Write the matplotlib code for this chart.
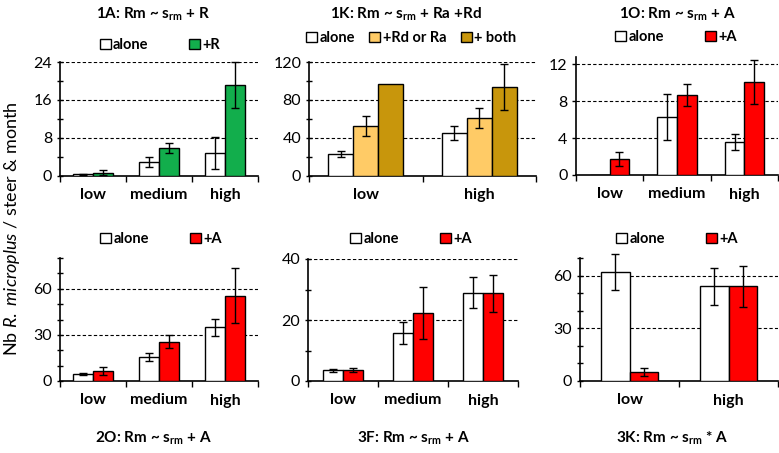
import numpy as np
import matplotlib
matplotlib.use("Agg")
import matplotlib.pyplot as plt
from matplotlib.patches import Patch
from matplotlib.ticker import MultipleLocator, FixedLocator, NullFormatter

plt.rcParams['font.family'] = ['Lato', 'DejaVu Sans']
plt.rcParams['mathtext.fontset'] = 'custom'
plt.rcParams['mathtext.rm'] = 'Lato'
plt.rcParams['mathtext.it'] = 'Lato:italic'
plt.rcParams['mathtext.bf'] = 'Lato:bold'

# ---- data ----
cats3 = ['low', 'medium', 'high']
cats2 = ['low', 'high']

# 1A
a1_alone = [0.3, 2.9, 4.8]
a1_alone_err = [0.1, 1.05, 3.4]
a1_r = [0.6, 5.8, 19.1]
a1_r_err = [0.5, 1.1, 4.9]

# 1K
k1_alone = [23, 45]
k1_alone_err = [3, 7]
k1_rd = [52.5, 60.4]
k1_rd_err = [10.5, 10.5]
k1_both = [96.8, 93.7]
k1_both_err = [np.nan, 24]

# 1O
o1_alone = [0, 6.3, 3.6]
o1_alone_err = [np.nan, 2.45, 0.85]
o1_a = [1.73, 8.67, 10.1]
o1_a_err = [0.76, 1.16, 2.35]

# 2O
o2_alone = [4.5, 15.5, 34.8]
o2_alone_err = [0.5, 2.7, 5.3]
o2_a = [6.7, 25.4, 55.5]
o2_a_err = [2.7, 4.2, 18]

# 3F
f3_alone = [3.5, 15.8, 29.0]
f3_alone_err = [0.4, 3.6, 5.0]
f3_a = [3.5, 22.3, 28.7]
f3_a_err = [0.6, 8.4, 6.0]

# 3K
k3_alone = [61.9, 53.8]
k3_alone_err = [10.1, 10.6]
k3_a = [5.3, 53.8]
k3_a_err = [2.3, 11.8]

WHITE = 'white'
GREEN = '#12AE4C'
RED = '#FF0000'
LORANGE = '#FFCB66'
GOLD = '#C8960C'

W, H = 779, 453
fig = plt.figure(figsize=(W / 100, H / 100), dpi=100)


def add_ax(x0, x1, ytop, ybot):
    return fig.add_axes([x0 / W, 1 - ybot / H, (x1 - x0) / W, (ybot - ytop) / H])


def panel(ax, cats, series, errs, colors, width, ymax, major, minor, labels,
          leg_xy, colsp, title, title_xy):
    n = len(cats)
    k = len(series)
    centers = np.arange(n) + 0.5
    for j, (vals, err, c) in enumerate(zip(series, errs, colors)):
        pos = centers + (j - (k - 1) / 2) * width
        ax.bar(pos, vals, width, color=c, edgecolor='black', linewidth=1.0, zorder=3)
        err = np.asarray(err, dtype=float)
        ok = ~np.isnan(err)
        ax.errorbar(pos[ok], np.asarray(vals)[ok], yerr=err[ok], fmt='none',
                    ecolor='black', elinewidth=1.0, capsize=3, capthick=1.0,
                    zorder=4, clip_on=False)
    ax.set_xlim(0, n)
    ax.set_ylim(0, ymax)
    for s in ['top', 'right']:
        ax.spines[s].set_visible(False)
    ax.spines['left'].set_linewidth(1.2)
    ax.spines['bottom'].set_linewidth(1.2)
    ax.yaxis.set_major_locator(MultipleLocator(major))
    if minor:
        ax.yaxis.set_minor_locator(MultipleLocator(minor))
        ax.tick_params(axis='y', which='both', direction='inout', length=5, width=1.0)
    else:
        ax.tick_params(axis='y', which='major', direction='out', length=3, width=1.0)
    ax.tick_params(axis='y', labelsize=11.5, pad=3)
    for g in np.arange(major, ymax + 1e-6, major):
        ax.axhline(g, color='black', lw=0.8, ls=(0, (3, 2)), zorder=1)
    ax.set_xticks(centers)
    ax.set_xticklabels(cats, fontweight='bold', fontsize=11.5)
    ax.tick_params(axis='x', which='major', length=0, pad=9)
    ax.xaxis.set_minor_locator(FixedLocator(np.arange(n + 1)))
    ax.xaxis.set_minor_formatter(NullFormatter())
    ax.tick_params(axis='x', which='minor', direction='out', length=4, width=1.0)
    handles = [Patch(facecolor=c, edgecolor='black', linewidth=1.0) for c in colors]
    fig.legend(handles, labels, loc='center', ncol=k, frameon=False,
               bbox_to_anchor=(leg_xy[0] / W, 1 - leg_xy[1] / H),
               prop={'weight': 'bold', 'size': 10.5}, handlelength=0.75, handleheight=0.75,
               handletextpad=0.15, columnspacing=colsp, borderpad=0)
    fig.text(title_xy[0] / W, 1 - title_xy[1] / H, title, ha='center', va='center',
             fontsize=11, fontweight='bold')


srm = r'$\mathbf{s}_{\mathbf{rm}}$'

ax = add_ax(60, 258, 62, 175.5)
panel(ax, cats3, [a1_alone, a1_r], [a1_alone_err, a1_r_err], [WHITE, GREEN], 0.3,
      24, 8, 4, ['alone', '+R'], (160, 45), 2.8, '1A: Rm ~ ' + srm + ' + R', (153, 14))

ax = add_ax(309, 536, 62, 175.5)
panel(ax, cats2, [k1_alone, k1_rd, k1_both], [k1_alone_err, k1_rd_err, k1_both_err],
      [WHITE, LORANGE, GOLD], 0.22, 120, 40, 20, ['alone', '+Rd or Ra', '+ both'],
      (411, 38), 1.0, '1K: Rm ~ ' + srm + ' + Ra +Rd', (406, 14))

ax = add_ax(576, 778, 57, 175)
panel(ax, cats3, [o1_alone, o1_a], [o1_alone_err, o1_a_err], [WHITE, RED], 0.29,
      12.8, 4, None, ['alone', '+A'], (676, 37), 2.8, '1O: Rm ~ ' + srm + ' + A', (677, 14))

ax = add_ax(60, 258, 258, 381)
panel(ax, cats3, [o2_alone, o2_a], [o2_alone_err, o2_a_err], [WHITE, RED], 0.3,
      80, 30, 10, ['alone', '+A'], (161, 239), 2.8, '2O: Rm ~ ' + srm + ' + A', (153, 438))

ax = add_ax(308, 518, 259, 381)
panel(ax, cats3, [f3_alone, f3_a], [f3_alone_err, f3_a_err], [WHITE, RED], 0.285,
      40, 20, 10, ['alone', '+A'], (411, 239), 2.8, '3F: Rm ~ ' + srm + ' + A', (414, 438))

ax = add_ax(580, 778, 258, 381)
panel(ax, cats2, [k3_alone, k3_a], [k3_alone_err, k3_a_err], [WHITE, RED], 0.29,
      70, 30, 10, ['alone', '+A'], (677, 239), 2.8, '3K: Rm ~ ' + srm + ' * A', (672, 438))

fig.text(12 / W, 1 - 229 / H, r'Nb $\mathit{R.\ microplus}$ / steer & month',
         rotation=90, ha='center', va='center', fontsize=13)

fig.savefig('out.png', dpi=100)
